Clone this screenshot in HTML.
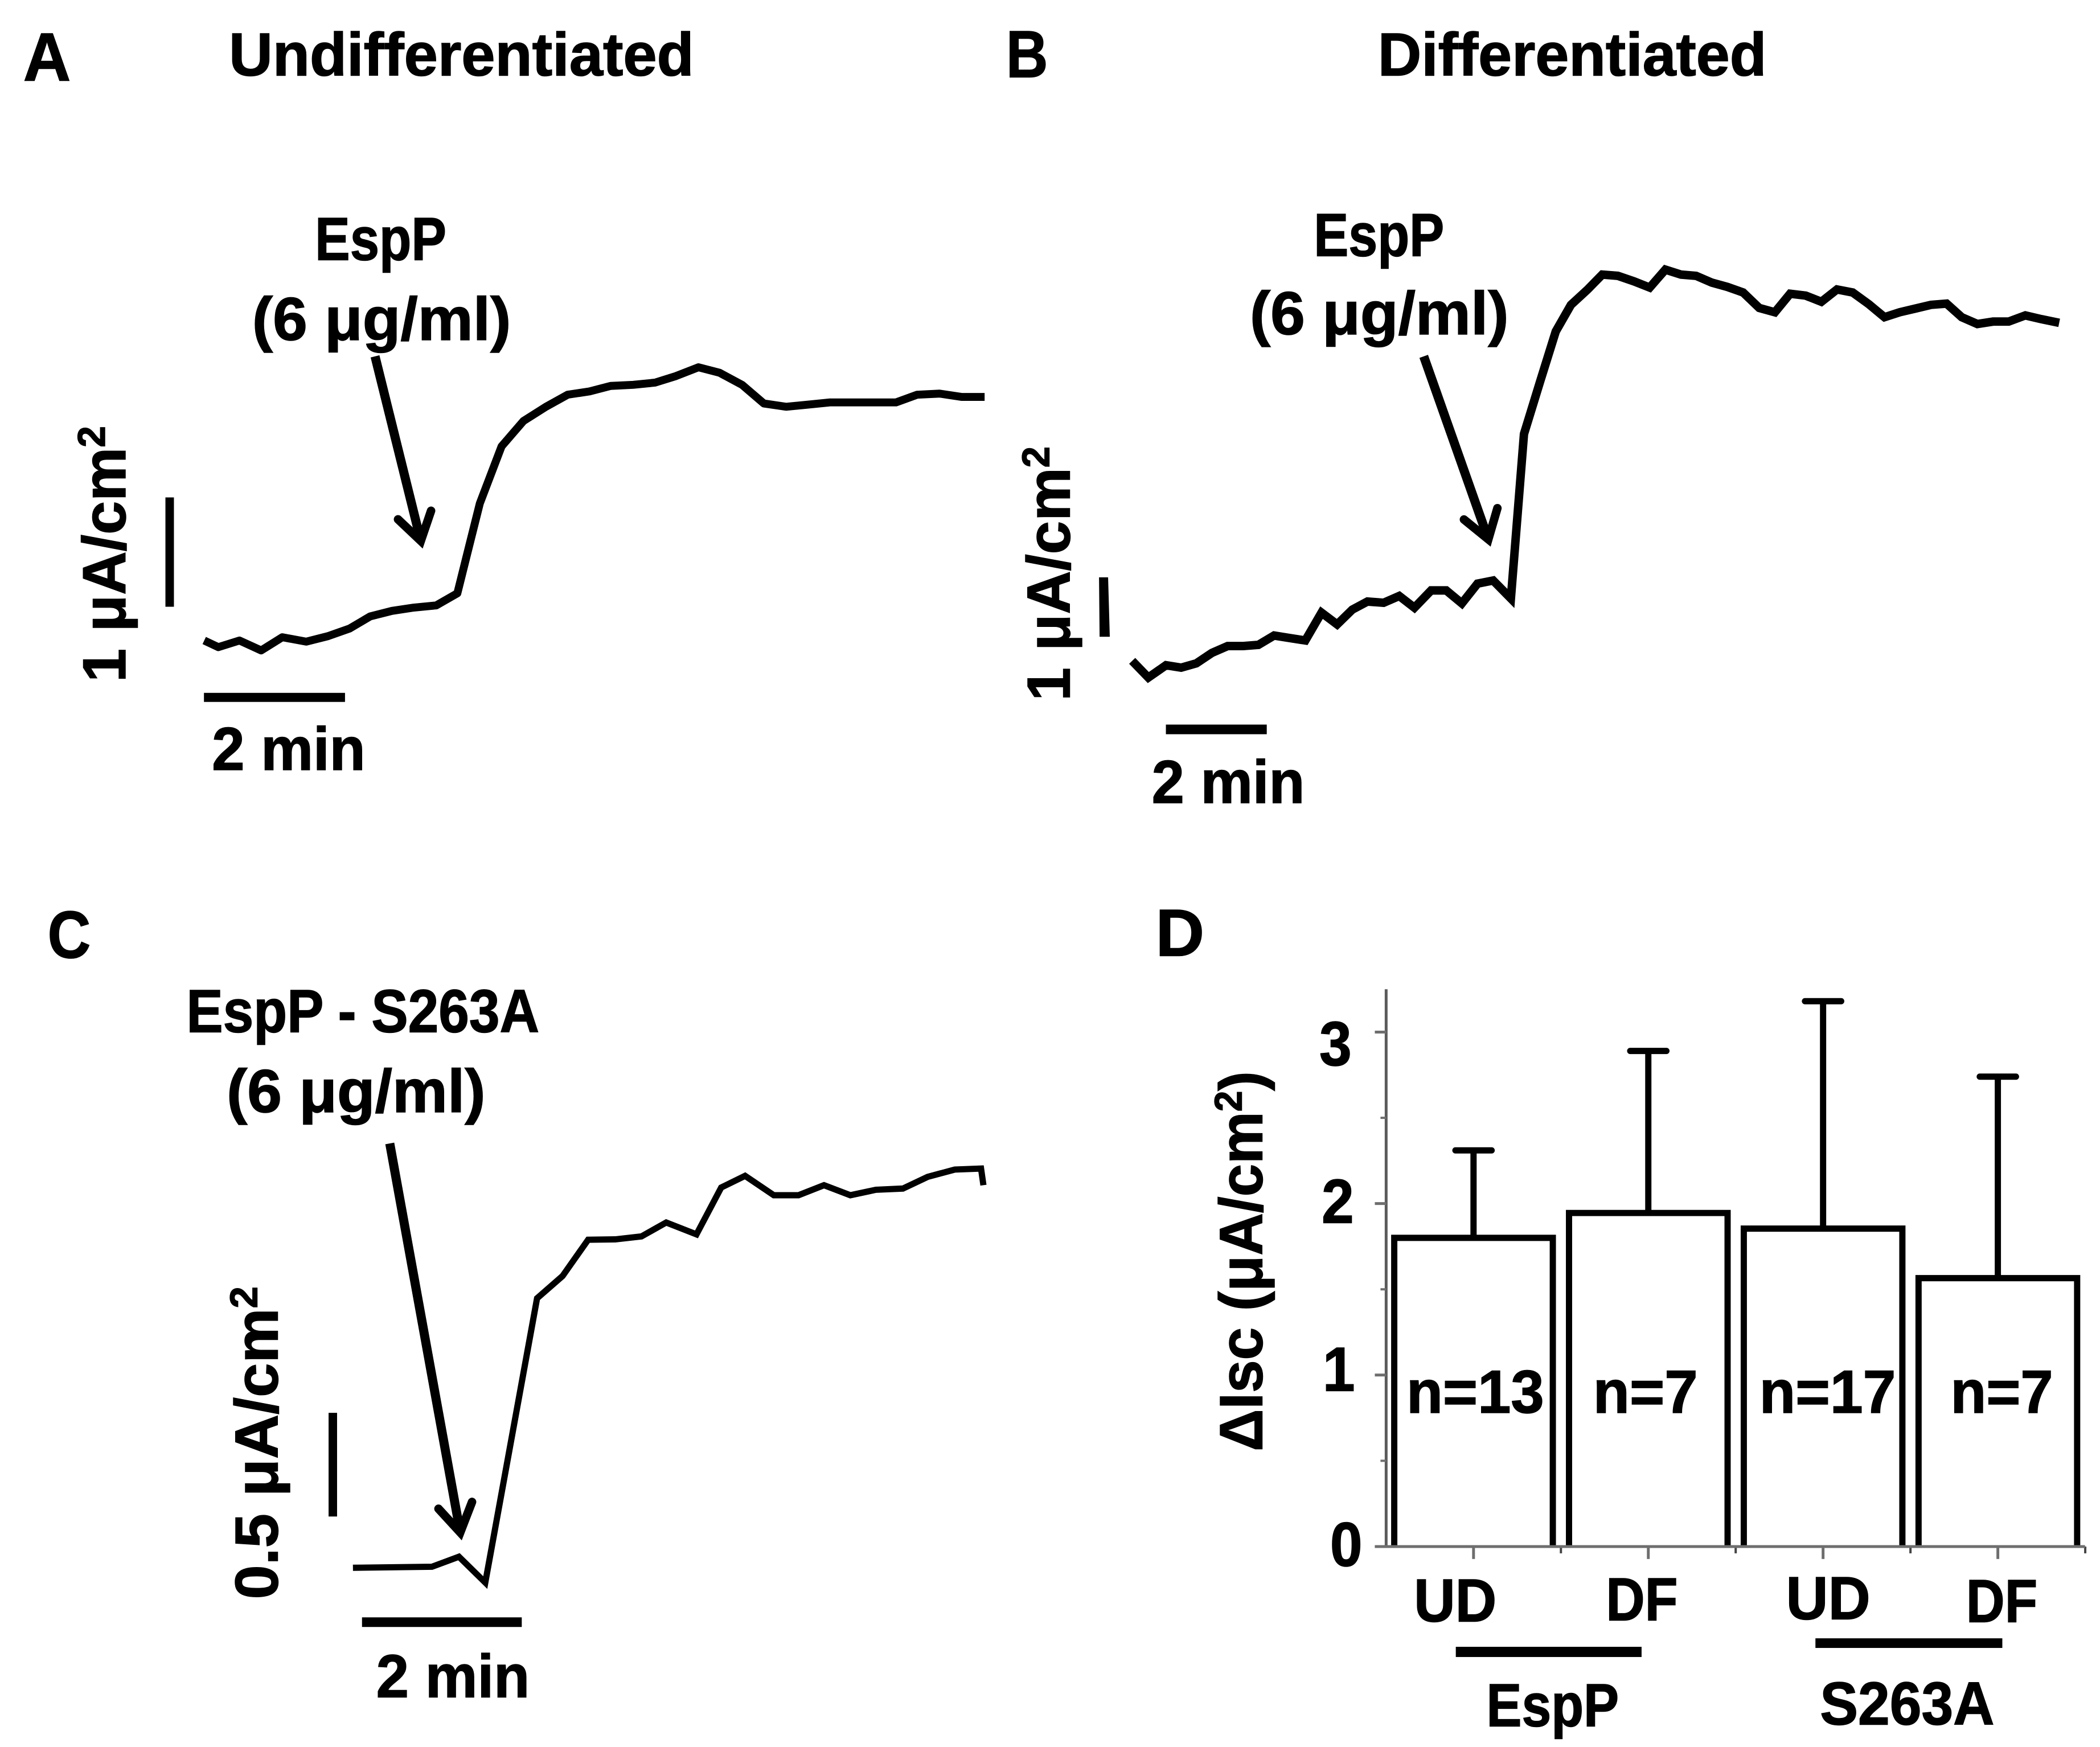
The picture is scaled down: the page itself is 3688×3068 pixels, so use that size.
<!DOCTYPE html>
<html lang="en">
<head>
<meta charset="utf-8">
<title>EspP short-circuit current figure</title>
<style>
html,body{margin:0;padding:0;background:#fff;width:3688px;height:3068px;overflow:hidden}
svg{display:block}
text{font-family:"Liberation Sans",sans-serif;font-weight:bold;fill:#000;stroke:#000;stroke-width:1.5px}
</style>
</head>
<body>
<svg id="figure" xmlns="http://www.w3.org/2000/svg" width="3688" height="3068" viewBox="0 0 3688 3068">
<rect width="3688" height="3068" fill="#fff"/>

<!-- Panel A -->
<g id="panel-a" transform="matrix(0.99492,0,0,0.99491,0,0)">
<text x="41" y="142" font-size="120" textLength="84" lengthAdjust="spacingAndGlyphs">A</text>
<text x="404" y="133" font-size="107" textLength="821" lengthAdjust="spacingAndGlyphs">Undifferentiated</text>
<text x="556" y="459" font-size="107" textLength="232" lengthAdjust="spacingAndGlyphs">EspP</text>
<text x="445" y="600" font-size="107" textLength="457" lengthAdjust="spacingAndGlyphs">(6 μg/ml)</text>
<text x="374" y="1359" font-size="107" textLength="271" lengthAdjust="spacingAndGlyphs">2 min</text>
<text transform="translate(221,1204) rotate(-90)" font-size="107" textLength="452" lengthAdjust="spacingAndGlyphs">1 μA/cm<tspan font-size="68" dy="-36">2</tspan></text>
<rect x="292" y="878" width="15" height="193" fill="#000"/>
<rect x="360" y="1223" width="249" height="16" fill="#000"/>
<g fill="none" stroke="#000">
<line x1="662" y1="629" x2="742.8" y2="954.8" stroke-width="16"/>
<polyline points="702.6,916.7 742.8,954.8 760.9,901.6" stroke-width="15" stroke-linecap="round" stroke-linejoin="miter"/>
</g>
</g>

<!-- Panel B -->
<g id="panel-b" transform="matrix(0.99518,0,0,0.99491,8.41,0)">
<text x="1767" y="136" font-size="118" textLength="74" lengthAdjust="spacingAndGlyphs">B</text>
<text x="2423" y="133" font-size="107" textLength="686" lengthAdjust="spacingAndGlyphs">Differentiated</text>
<text x="2310" y="452" font-size="107" textLength="230" lengthAdjust="spacingAndGlyphs">EspP</text>
<text x="2197" y="590" font-size="107" textLength="457" lengthAdjust="spacingAndGlyphs">(6 μg/ml)</text>
<text x="2024" y="1417" font-size="107" textLength="270" lengthAdjust="spacingAndGlyphs">2 min</text>
<text transform="translate(1879,1237) rotate(-90)" font-size="107" textLength="449" lengthAdjust="spacingAndGlyphs">1 μA/cm<tspan font-size="68" dy="-36">2</tspan></text>
<polygon points="1931,1019 1947,1019 1950,1124 1932,1124" fill="#000"/>
<rect x="2049" y="1279" width="178" height="17" fill="#000"/>
<g fill="none" stroke="#000">
<line x1="2504" y1="629" x2="2618" y2="952" stroke-width="16"/>
<polyline points="2575,917 2618,952 2634,897" stroke-width="15" stroke-linecap="round" stroke-linejoin="miter"/>
</g>
</g>

<!-- Panel C -->
<g id="panel-c" transform="matrix(0.99492,0,0,0.99491,0,7.81)">
<text x="84" y="1683" font-size="118" textLength="76" lengthAdjust="spacingAndGlyphs">C</text>
<text x="329" y="1814" font-size="107" textLength="623" lengthAdjust="spacingAndGlyphs">EspP - S263A</text>
<text x="400" y="1955" font-size="107" textLength="457" lengthAdjust="spacingAndGlyphs">(6 μg/ml)</text>
<text x="664" y="2988" font-size="107" textLength="271" lengthAdjust="spacingAndGlyphs">2 min</text>
<text transform="translate(490,2815) rotate(-90)" font-size="107" textLength="552" lengthAdjust="spacingAndGlyphs">0.5 μA/cm<tspan font-size="68" dy="-36">2</tspan></text>
<rect x="580" y="2486" width="15" height="183" fill="#000"/>
<rect x="639" y="2847" width="282" height="17" fill="#000"/>
<g fill="none" stroke="#000">
<line x1="688" y1="2010.5" x2="812.4" y2="2697.1" stroke-width="16"/>
<polyline points="774,2655.3 812.4,2697.1 833.2,2643.3" stroke-width="15" stroke-linecap="round" stroke-linejoin="miter"/>
</g>
</g>

<!-- Panel D -->
<g id="panel-d" transform="matrix(0.9946,0,0,0.99491,10.5,7.81)">
<text x="2030" y="1679" font-size="118" textLength="86" lengthAdjust="spacingAndGlyphs">D</text>
<text transform="translate(2218,2554) rotate(-90)" font-size="107" textLength="671" lengthAdjust="spacingAndGlyphs">ΔIsc (μA/cm<tspan font-size="68" dy="-36">2</tspan><tspan dy="36">)</tspan></text>
<text x="2486" y="2854" font-size="107" textLength="146" lengthAdjust="spacingAndGlyphs">UD</text>
<text x="2825" y="2852" font-size="107" textLength="127" lengthAdjust="spacingAndGlyphs">DF</text>
<text x="3143" y="2850" font-size="107" textLength="149" lengthAdjust="spacingAndGlyphs">UD</text>
<text x="3461" y="2855" font-size="107" textLength="126" lengthAdjust="spacingAndGlyphs">DF</text>
<rect x="2560" y="2899" width="328" height="18" fill="#000"/>
<rect x="3195" y="2884" width="330" height="17" fill="#000"/>
<text x="2614" y="3039" font-size="107" textLength="234" lengthAdjust="spacingAndGlyphs">EspP</text>
<text x="3203" y="3036" font-size="107" textLength="308" lengthAdjust="spacingAndGlyphs">S263A</text>
</g>
</svg>

<script>
// Trace A: time in minutes, current in µA/cm² above the starting baseline
const traceATime = [0,0.2,0.5,0.81,1.11,1.45,1.76,2.07,2.36,2.67,2.98,3.3,3.6,3.76,3.92,4.23,4.54,4.86,5.17,5.48,5.78,6.1,6.41,6.71,7.03,7.33,7.65,7.96,8.28,8.59,8.9,9.21,9.52,9.84,10.14,10.46,10.77,11.1];
const traceACurrent = [0.1,0.04,0.1,0.01,0.13,0.09,0.14,0.21,0.32,0.37,0.4,0.42,0.53,0.94,1.35,1.87,2.1,2.23,2.34,2.37,2.42,2.43,2.45,2.51,2.59,2.54,2.43,2.26,2.23,2.25,2.27,2.27,2.27,2.27,2.34,2.35,2.32,2.32];

// Trace B
const traceBTime = [0,0.32,0.67,0.97,1.27,1.58,1.89,2.2,2.5,2.81,3.12,3.43,3.75,4.06,4.36,4.66,4.98,5.29,5.59,5.92,6.22,6.53,6.84,7.15,7.5,7.76,8.08,8.39,8.69,9.01,9.31,9.62,9.94,10.25,10.56,10.87,11.17,11.48,11.79,12.1,12.42,12.73,13.03,13.34,13.65,13.96,14.27,14.59,14.9,15.2,15.51,15.82,16.13,16.43,16.74,17.05,17.36,17.69,18,18.36];
const traceBCurrent = [0.27,0,0.2,0.16,0.23,0.4,0.51,0.51,0.53,0.68,0.64,0.6,1.05,0.86,1.1,1.23,1.21,1.32,1.13,1.41,1.41,1.2,1.52,1.57,1.28,3.94,4.79,5.6,6.03,6.27,6.52,6.5,6.41,6.31,6.6,6.52,6.5,6.39,6.32,6.23,5.98,5.91,6.21,6.18,6.08,6.28,6.23,6.04,5.83,5.91,5.97,6.03,6.05,5.83,5.72,5.76,5.76,5.86,5.8,5.74];

// Trace C
const traceCTime = [0,0.99,1.33,1.66,2.31,2.63,2.95,3.29,3.62,3.93,4.31,4.62,4.92,5.28,5.59,5.91,6.24,6.56,6.9,7.21,7.55,7.88,7.91];
const traceCCurrent = [0.083,0.088,0.136,0.012,1.377,1.484,1.658,1.66,1.674,1.741,1.684,1.909,1.965,1.872,1.872,1.92,1.872,1.898,1.904,1.96,1.995,2,1.92];

// Panel D bar chart
const barCategories = ['UD EspP','DF EspP','UD S263A','DF S263A'];
const barMeans = [1.8,1.945,1.854,1.565];
const barErrorTops = [2.31,2.89,3.18,2.74];
const barCounts = ['n=13','n=7','n=17','n=7'];
const yTickValues = [0,1,2,3];
const yMinorTickValues = [0.5,1.5,2.5];

const SVG_NS = 'http://www.w3.org/2000/svg';
function make(tag, parent, attrs) {
  const el = document.createElementNS(SVG_NS, tag);
  for (const k in attrs) el.setAttribute(k, attrs[k]);
  parent.appendChild(el);
  return el;
}

function traceD(times, currents, xAxis, yAxis) {
  return times.map((t, i) => xAxis(t).toFixed(1) + ',' + yAxis(currents[i]).toFixed(1)).join(' ');
}

// Trace axis functions
const xA = t => 360.5 + t * 124.1;
const yA = v => 1150 - v * 193.7;
const xB = t => 1989.5 + t * 89.1;
const yB = v => 1196 - v * 109.1;
const xC = t => 623 + t * 140.7;
const yC = v => 2790 - v * 367.6;

const lineA = make('polyline', document.getElementById('panel-a'), {points: traceD(traceATime, traceACurrent, xA, yA), fill: 'none', stroke: '#000', 'stroke-width': 14, 'stroke-linejoin': 'round'});



const lineB = make('polyline', document.getElementById('panel-b'), {points: traceD(traceBTime, traceBCurrent, xB, yB), fill: 'none', stroke: '#000', 'stroke-width': 15, 'stroke-linejoin': 'miter'});



const lineC = make('polyline', document.getElementById('panel-c'), {points: traceD(traceCTime, traceCCurrent, xC, yC), fill: 'none', stroke: '#000', 'stroke-width': 11, 'stroke-linejoin': 'miter', 'stroke-miterlimit': 6});



// Bar chart axes
const panelD = document.getElementById('panel-d');
const axisLeft = 2437;
const axisRight = 3671;
const slotWidth = 308.6;
const barWidth = 280;
const xD = i => axisLeft + slotWidth * (i + 0.5);
const yD = v => 2722 - v * 302.7;
const tickLabelShiftY = {0: 0, 1: -6, 2: 0, 3: 25};
const tickLabelRight = {0: 2395, 1: 2382, 2: 2380, 3: 2376};
const countLabelShiftX = [3, -5, 8, 7];
const countLabelWidth = [243, 185, 241, 181];
const AXIS_GREY = '#6e6e6e';

barCategories.forEach((name, i) => {
  const key = name.toLowerCase().replace(' ', '-');
  const c = xD(i);
  const err = make('path', panelD, {d: 'M' + c + ',' + yD(barMeans[i]) + 'V' + yD(barErrorTops[i]) + 'M' + (c - 32) + ',' + yD(barErrorTops[i]) + 'H' + (c + 32), fill: 'none', stroke: '#000', 'stroke-width': 11, 'stroke-linecap': 'round'});
  
  
  const left = c - barWidth / 2;
  const right = c + barWidth / 2;
  const bar = make('path', panelD, {d: 'M' + left + ',' + yD(0) + 'V' + yD(barMeans[i]) + 'H' + right + 'V' + yD(0), fill: '#fff', stroke: '#000', 'stroke-width': 11});
  
  
  const count = make('text', panelD, {x: c + countLabelShiftX[i] - countLabelWidth[i] / 2, y: 2486, 'font-size': 107, textLength: countLabelWidth[i], lengthAdjust: 'spacingAndGlyphs'});
  count.textContent = barCounts[i];
  
  
  const tick = make('line', panelD, {x1: c, x2: c, y1: yD(0), y2: yD(0) + 22, stroke: AXIS_GREY, 'stroke-width': 5});
  
  
  const sep = make('line', panelD, {x1: axisLeft + slotWidth * (i + 1), x2: axisLeft + slotWidth * (i + 1), y1: yD(0), y2: yD(0) + 12, stroke: '#444', 'stroke-width': 4});
  
  
});

const yAxisLine = make('line', panelD, {x1: axisLeft, x2: axisLeft, y1: yD(3.25), y2: yD(0), stroke: '#5a5a5a', 'stroke-width': 5});


const xAxisLine = make('line', panelD, {x1: axisLeft - 20, x2: axisRight, y1: yD(0), y2: yD(0), stroke: AXIS_GREY, 'stroke-width': 5});



yTickValues.forEach(v => {
  const tick = make('line', panelD, {x1: axisLeft - 20, x2: axisLeft, y1: yD(v), y2: yD(v), stroke: AXIS_GREY, 'stroke-width': 5});
  
  
  const label = make('text', panelD, {x: tickLabelRight[v] - 57, y: yD(v) + 34 + tickLabelShiftY[v], 'font-size': 110, textLength: 57, lengthAdjust: 'spacingAndGlyphs'});
  label.textContent = String(v);
  
  
});
yMinorTickValues.forEach(v => {
  const tick = make('line', panelD, {x1: axisLeft - 10, x2: axisLeft, y1: yD(v), y2: yD(v), stroke: AXIS_GREY, 'stroke-width': 4});
  
  
});
</script>
</body>
</html>
